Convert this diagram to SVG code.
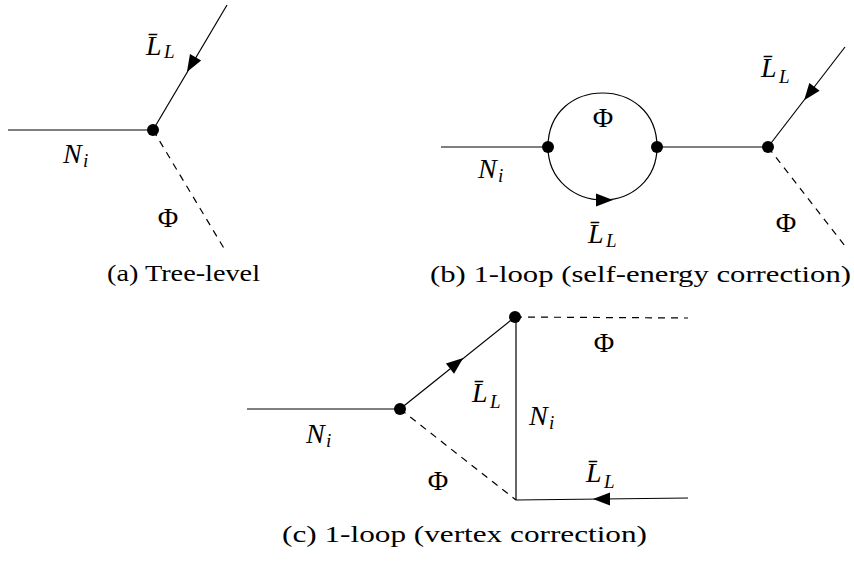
<svg xmlns="http://www.w3.org/2000/svg" width="854" height="561" viewBox="0 0 854 561">
<style>
.ln{stroke:#000;stroke-width:1.2;fill:none}
.ds{stroke:#000;stroke-width:1.2;fill:none;stroke-dasharray:7 6}
.dot{fill:#000}
text{font-family:'Liberation Serif','Times New Roman',Tinos,serif;fill:#000}
.m{font-style:italic;font-size:28px}
.s{font-style:italic;font-size:19px}
.u{font-size:28px;text-anchor:middle}
.cap{font-size:24px}
</style>
<defs>
<path id="arr" d="M8,0 L-9,-6.5 L-9,6.5 Z" fill="#000"/>
</defs>
<rect width="854" height="561" fill="#fff"/>

<!-- (a) Tree-level -->
<g id="diagram-a">
<g id="a-connectors">
<line class="ln" x1="8" y1="130" x2="153" y2="130"/>
<line class="ln" x1="153" y1="130" x2="227" y2="5"/>
<line class="ds" x1="153" y1="130" x2="225" y2="250"/>
<use href="#arr" transform="translate(191,65) rotate(120.6)"/>
</g>
<g id="a-vertex"><circle class="dot" cx="153" cy="130" r="6"/></g>
<g id="a-labels">
<text class="m" x="146" y="55">L̄</text><text class="s" x="164" y="58">L</text>
<text class="m" x="63" y="163">N</text><text class="s" x="83" y="167">i</text>
<text class="u" x="168" y="227">Φ</text>
<text class="cap" x="107" y="281" textLength="153" lengthAdjust="spacingAndGlyphs">(a) Tree-level</text>
</g>
</g>

<!-- (b) self-energy -->
<g id="diagram-b">
<g id="b-connectors">
<line class="ln" x1="441" y1="147" x2="548" y2="147"/>
<path class="ln" d="M548,147 C548,75 657,75 657,147"/>
<path class="ln" d="M548,147 C548,180 575,200 603,200 C631,200 657,180 657,147"/>
<line class="ln" x1="657" y1="147" x2="768" y2="147"/>
<line class="ln" x1="768" y1="147" x2="845" y2="47"/>
<line class="ds" x1="768" y1="147" x2="845" y2="246"/>
<use href="#arr" transform="translate(605,200)"/>
<use href="#arr" transform="translate(809,94) rotate(127.6)"/>
</g>
<g id="b-vertex-1"><circle class="dot" cx="548" cy="147" r="6"/></g>
<g id="b-vertex-2"><circle class="dot" cx="657" cy="147" r="6"/></g>
<g id="b-vertex-3"><circle class="dot" cx="768" cy="147" r="6"/></g>
<g id="b-labels">
<text class="m" x="478" y="178">N</text><text class="s" x="498" y="182">i</text>
<text class="u" x="603" y="127">Φ</text>
<text class="m" x="588" y="243">L̄</text><text class="s" x="606" y="247">L</text>
<text class="u" x="786" y="232">Φ</text>
<text class="m" x="761" y="77">L̄</text><text class="s" x="779" y="83">L</text>
<text class="cap" x="430" y="282" textLength="421" lengthAdjust="spacingAndGlyphs">(b) 1-loop (self-energy correction)</text>
</g>
</g>

<!-- (c) vertex correction -->
<g id="diagram-c">
<g id="c-connectors">
<line class="ln" x1="247" y1="409" x2="400" y2="409"/>
<line class="ln" x1="400" y1="409" x2="515" y2="317"/>
<line class="ds" x1="515" y1="317" x2="688" y2="318"/>
<line class="ln" x1="516" y1="317" x2="516" y2="500"/>
<line class="ds" x1="400" y1="409" x2="516" y2="500"/>
<line class="ln" x1="516" y1="500" x2="688" y2="498"/>
<use href="#arr" transform="translate(457,363) rotate(-38.7)"/>
<use href="#arr" transform="translate(601,499) rotate(180)"/>
</g>
<g id="c-vertex-1"><circle class="dot" cx="400" cy="409" r="6"/></g>
<g id="c-vertex-2"><circle class="dot" cx="515" cy="317" r="6"/></g>
<g id="c-labels">
<text class="u" x="604" y="352">Φ</text>
<text class="m" x="472" y="402">L̄</text><text class="s" x="490" y="408">L</text>
<text class="m" x="529" y="425">N</text><text class="s" x="549" y="429">i</text>
<text class="m" x="306" y="443">N</text><text class="s" x="326" y="447">i</text>
<text class="u" x="438" y="490">Φ</text>
<text class="m" x="586" y="482">L̄</text><text class="s" x="604" y="488">L</text>
<text class="cap" x="282" y="542" textLength="365" lengthAdjust="spacingAndGlyphs">(c) 1-loop (vertex correction)</text>
</g>
</g>
</svg>
